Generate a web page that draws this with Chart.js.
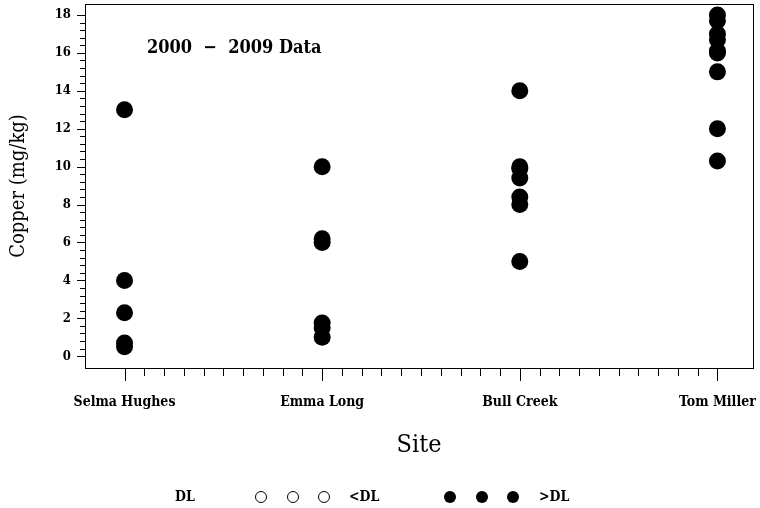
<!DOCTYPE html>
<html>
<head>
<meta charset="utf-8">
<script src="https://cdn.jsdelivr.net/npm/chart.js@4/dist/chart.umd.min.js"></script>
<style>
  html, body { margin: 0; padding: 0; background: #fff; }
  #wrap { width: 760px; height: 508px; }
</style>
</head>
<body>
<div id="wrap"><canvas id="copperChart" width="760" height="508"></canvas></div>
<script>
var sites = ['Selma Hughes', 'Emma Long', 'Bull Creek', 'Tom Miller']
var selmaHughes = [13, 4, 2.3, 0.7, 0.5]
var emmaLong = [10, 6.2, 6.0, 1.75, 1.5, 1.0]
var bullCreek = [14, 10, 9.9, 9.4, 8.4, 8.0, 5.0]
var tomMiller = [18, 17.7, 17.0, 16.7, 16.1, 16.0, 15.0, 12.0, 10.3]
var belowDL = []   // no values under the detection limit
var yTicks = [0, 2, 4, 6, 8, 10, 12, 14, 16, 18]

var serif = '"DejaVu Serif Condensed", "DejaVu Serif", "Liberation Serif", serif'

window.onload = function() {
    showCopper()
}

function showCopper() {
    var above = []
    ;[selmaHughes, emmaLong, bullCreek, tomMiller].forEach((vals, i) => {
        vals.forEach(v => above.push({ x: i, y: v }))
    })

    // box, minor/major tick marks, note and legend
    var decor = {
        id: 'decor',
        afterDraw(chart) {
            var ctx = chart.ctx
            var a = chart.chartArea
            var xs = chart.scales.x, ys = chart.scales.y
            ctx.save()
            ctx.strokeStyle = '#000'
            ctx.lineWidth = 1
            ctx.strokeRect(Math.round(a.left) + 0.5, Math.round(a.top) + 0.5,
                Math.round(a.right - a.left), Math.round(a.bottom - a.top))

            ctx.beginPath()
            for (var k = 0; k <= 30; k++) {
                var px = Math.round(xs.getPixelForValue(k / 10)) + 0.5
                var len = k % 10 === 0 ? 13 : 8
                ctx.moveTo(px, a.bottom)
                ctx.lineTo(px, a.bottom + len)
            }
            for (var j = 0; j <= 45; j++) {
                var py = Math.round(ys.getPixelForValue(j * 0.4)) + 0.5
                var ln = j % 5 === 0 ? 8 : 5
                ctx.moveTo(a.left, py)
                ctx.lineTo(a.left - ln, py)
            }
            ctx.stroke()

            ctx.fillStyle = '#000'
            ctx.textBaseline = 'middle'
            ctx.font = 'bold 18px ' + serif
            ctx.fillText('2000  \u2212  2009 Data', 147, 48)

            // legend
            var ly = 497
            ctx.font = 'bold 14px ' + serif
            ctx.fillText('DL', 175, ly)
            ctx.fillText('<DL', 349, ly)
            ctx.fillText('>DL', 539, ly)
            ;[261, 293, 324].forEach(cx => {
                ctx.beginPath()
                ctx.arc(cx, ly, 5.5, 0, Math.PI * 2)
                ctx.stroke()
            })
            ;[450, 482, 513].forEach(cx => {
                ctx.beginPath()
                ctx.arc(cx, ly, 6, 0, Math.PI * 2)
                ctx.fill()
            })
            ctx.restore()
        }
    }

    var ctx = document.getElementById('copperChart').getContext('2d')
    var chart = new Chart(ctx, {
        type: 'scatter',
        data: {
            datasets: [{
                label: '<DL',
                data: belowDL,
                pointRadius: 6,
                pointBackgroundColor: '#fff',
                pointBorderColor: '#000',
                pointBorderWidth: 1
            }, {
                label: '>DL',
                data: above,
                pointRadius: 8.5,
                pointBackgroundColor: '#000',
                pointBorderColor: '#000',
                pointBorderWidth: 0
            }]
        },
        options: {
            responsive: false,
            animation: false,
            layout: { autoPadding: false, padding: { left: 0, top: 4, right: 7, bottom: 46 } },
            plugins: {
                legend: { display: false },
                tooltip: { enabled: false }
            },
            scales: {
                x: {
                    type: 'linear',
                    min: -0.2,
                    max: 3.18,
                    afterBuildTicks: s => { s.ticks = sites.map((n, i) => ({ value: i })) },
                    afterFit: s => { s.height = 94; s.paddingLeft = 0; s.paddingRight = 0 },
                    border: { display: false },
                    grid: { display: false },
                    ticks: {
                        color: '#000',
                        padding: 18,
                        maxRotation: 0,
                        font: { family: serif, size: 14, weight: 'bold' },
                        callback: v => sites[v]
                    },
                    title: {
                        display: true,
                        text: 'Site',
                        color: '#000',
                        padding: { top: 0, bottom: 2 },
                        font: { family: serif, size: 25, weight: 'normal' }
                    }
                },
                y: {
                    min: -0.62,
                    max: 18.58,
                    afterBuildTicks: s => { s.ticks = yTicks.map(v => ({ value: v })) },
                    afterFit: s => { s.width = 85; s.paddingTop = 0; s.paddingBottom = 0 },
                    border: { display: false },
                    grid: { display: false },
                    ticks: {
                        color: '#000',
                        padding: 6,
                        font: { family: serif, size: 13, weight: 'bold' }
                    },
                    title: {
                        display: true,
                        text: 'Copper (mg/kg)',
                        color: '#000',
                        padding: { top: 7, bottom: 0 },
                        font: { family: serif, size: 20, weight: 'normal' }
                    }
                }
            }
        },
        plugins: [decor]
    })
}
</script>
</body>
</html>
